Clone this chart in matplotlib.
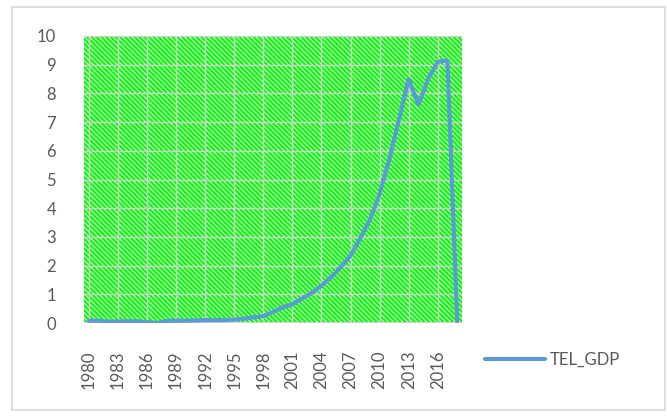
import numpy as np
import matplotlib.pyplot as plt
from matplotlib.patches import Rectangle

years = list(range(1980, 2019))
tel_gdp = [0.08, 0.08, 0.05, 0.05, 0.06, 0.06, 0.03, 0.0, 0.07, 0.08,
           0.08, 0.09, 0.10, 0.10, 0.10, 0.12, 0.15, 0.20, 0.24, 0.38,
           0.55, 0.65, 0.85, 1.05, 1.30, 1.60, 1.95, 2.35, 2.95, 3.60,
           4.50, 5.70, 7.10, 8.50, 7.60, 8.50, 9.10, 9.15, 0.05]
series_name = "TEL_GDP"

plt.rcParams['font.family'] = ['Lato', 'DejaVu Sans']
text_color = '#595959'
line_color = '#5b9bd5'

fig = plt.figure(figsize=(6.67, 4.16), dpi=100)
# chart border
fig.patches.append(Rectangle((12 / 667, 6 / 416), 653 / 667, 403 / 416,
                             transform=fig.transFigure, fill=False,
                             edgecolor='#d9d9d9', linewidth=1.2))

ax = fig.add_axes([84 / 667, (416 - 323) / 416, 378 / 667, 287 / 416])
x = np.arange(len(years))

# patterned plot area (green with light diagonal stripes)
ax.set_facecolor('#00ff00')
plt.rcParams['hatch.linewidth'] = 0.9
ax.add_patch(Rectangle((0, 0), 1, 1, transform=ax.transAxes, facecolor='#00ff00',
                       edgecolor='#d4ecd4', hatch='\\\\\\\\\\\\\\', linewidth=0, zorder=0))

ax.plot(x, tel_gdp, color=line_color, linewidth=3.0, solid_capstyle='round',
        label=series_name, zorder=3)

ax.set_xlim(-0.5, len(years) - 0.5)
ax.set_ylim(0, 10)
ax.set_yticks(range(0, 11))
tick_idx = x[::3]
ax.set_xticks(tick_idx)
ax.set_xticklabels([str(years[i]) for i in tick_idx], rotation=90)

ax.grid(True, color='#cfcfcf', linewidth=1.0, zorder=1)
ax.set_axisbelow(True)
for s in ax.spines.values():
    s.set_visible(False)
ax.axhline(0, color='#d0d0d0', linewidth=1.5, zorder=2)
ax.tick_params(axis='both', length=0, labelsize=12, colors=text_color)
ax.tick_params(axis='x', pad=20)
ax.tick_params(axis='y', pad=20)

leg = fig.legend(loc='center left', bbox_to_anchor=(470 / 667, 1 - 360 / 416),
                 frameon=False, fontsize=12, handlelength=3.6, handletextpad=0.3)
for t in leg.get_texts():
    t.set_color(text_color)

fig.savefig('out.png', dpi=100)
